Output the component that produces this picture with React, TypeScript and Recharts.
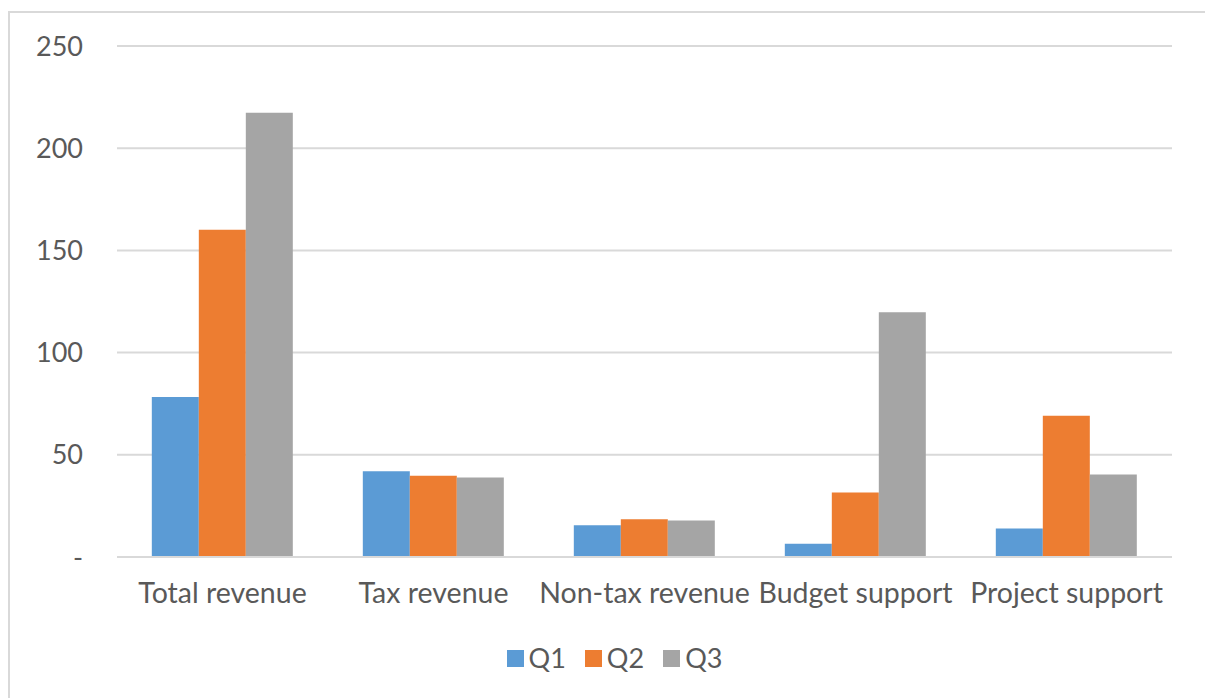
import React from "react";
import { BarChart, Bar, XAxis, YAxis, CartesianGrid, Legend } from "recharts";

const categories = ["Total revenue", "Tax revenue", "Non-tax revenue", "Budget support", "Project support"];
const q1Values = [78.3, 41.9, 15.5, 6.5, 13.9];
const q2Values = [160.1, 39.7, 18.5, 31.5, 69.1];
const q3Values = [217.3, 38.9, 17.8, 119.8, 40.4];
const yTicks = [0, 50, 100, 150, 200, 250];
const seriesNames = ["Q1", "Q2", "Q3"];
const seriesColors = ["#5B9BD5", "#ED7D31", "#A5A5A5"];

const data = categories.map((name, i) => ({
  name,
  Q1: q1Values[i],
  Q2: q2Values[i],
  Q3: q3Values[i],
}));

const FONT = "Lato, 'Open Sans', sans-serif";
const TEXT = "#595959";

const LegendContent = (props: any) => {
  const payload = props.payload || [];
  return (
    <div style={{ display: "flex", justifyContent: "center", alignItems: "center", fontFamily: FONT, fontSize: 27, color: TEXT, paddingLeft: 24 }}>
      {payload.map((p: any, i: number) => (
        <div key={i} style={{ display: "flex", alignItems: "center", marginRight: i < payload.length - 1 ? 19 : 0 }}>
          <span style={{ display: "inline-block", width: 17, height: 17, background: p.color, marginRight: 5 }} />
          <span style={{ lineHeight: "30px" }}>{p.value}</span>
        </div>
      ))}
    </div>
  );
};

export default function App() {
  return (
    <div style={{ position: "absolute", left: 0, top: 0, width: 1205, height: 698, overflow: "hidden", background: "#fff" }}>
      <div
        style={{
          position: "absolute",
          left: 8,
          top: 11,
          width: 1400,
          height: 900,
          borderLeft: "2px solid #d9d9d9",
          borderTop: "2px solid #d9d9d9",
        }}
      />
      <div style={{ position: "absolute", left: 0, top: 0 }}>
        <BarChart
          width={1205}
          height={698}
          data={data}
          margin={{ top: 46, right: 33, bottom: 81, left: 0 }}
          barCategoryGap="16.5%"
          barGap={0}
        >
          <CartesianGrid vertical={false} stroke="#d9d9d9" strokeWidth={2} />
          <XAxis
            dataKey="name"
            interval={0}
            height={60}
            tickLine={false}
            tickSize={0}
            tickMargin={26}
            axisLine={{ stroke: "#d9d9d9", strokeWidth: 2 }}
            tick={{ fill: TEXT, fontSize: 28.5, fontFamily: FONT }}
          />
          <YAxis
            width={117}
            domain={[0, 250]}
            ticks={yTicks}
            tickLine={false}
            axisLine={false}
            tickSize={0}
            tickMargin={34}
            tickFormatter={(v: number) => (v === 0 ? "-" : String(v))}
            tick={{ fill: TEXT, fontSize: 27, fontFamily: FONT }}
          />
          <Legend
            verticalAlign="middle"
            content={<LegendContent />}
            wrapperStyle={{ top: 643, left: 0, width: 1205 }}
          />
          {seriesNames.map((s, i) => (
            <Bar key={s} dataKey={s} name={s} fill={seriesColors[i]} isAnimationActive={false} />
          ))}
        </BarChart>
      </div>
    </div>
  );
}
